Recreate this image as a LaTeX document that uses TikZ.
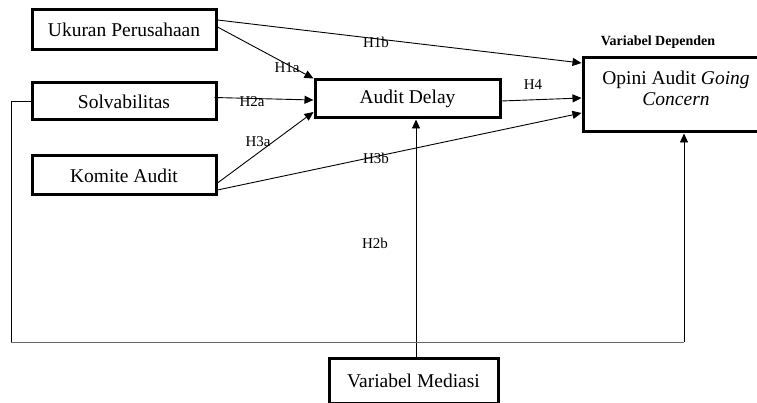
\documentclass[tikz,border=0pt]{standalone}
\usepackage{fontspec}
\setmainfont{Liberation Serif}
\usetikzlibrary{arrows.meta}
\begin{document}
\begin{tikzpicture}[x=1pt,y=-1pt,
  box/.style={draw,line width=3pt,rectangle,inner sep=0pt,font=\fontsize{19.5}{21}\selectfont,align=center},
  conn/.style={line width=0.9pt,-{Triangle[length=9pt,width=8pt]}},
  plain/.style={line width=0.9pt},
  hlab/.style={font=\fontsize{15}{17}\selectfont,inner sep=0pt}]
\useasboundingbox (0,0) rectangle (757,403);
\clip (0,0) rectangle (757,403);
\node[box,minimum width=184pt,minimum height=40pt] (uk) at (124,30) {Ukuran Perusahaan};
\node[box,minimum width=184pt,minimum height=37pt] (solv) at (124,101.5) {Solvabilitas};
\node[box,minimum width=184pt,minimum height=39pt] (kom) at (124,175.5) {Komite Audit};
\node[box,minimum width=185pt,minimum height=38pt] (ad) at (407.5,99) {Audit Delay};
\node[box,minimum width=186pt,minimum height=74pt] (op) at (676,95) {};
\node[font=\fontsize{19.5}{21}\selectfont,align=center,inner sep=0pt] (optext) at (676,88) {Opini Audit \textit{Going}\\\textit{Concern}};
\node[font=\bfseries\fontsize{14}{16}\selectfont,inner sep=0pt] (dep) at (658,42) {Variabel Dependen};
\node[box,minimum width=169pt,minimum height=45pt] (med) at (413.5,381) {Variabel Mediasi};

\draw[conn] ([yshift=3pt]uk.east) -- (ad.north west);
\draw[conn] ([yshift=10pt]uk.east) -- ([yshift=32pt]op.west);
\draw[conn] ([yshift=4pt,xshift=-3pt]solv.east) -- ([yshift=-1pt]ad.west);
\draw[conn] ([yshift=-7.5pt]kom.east) -- ([yshift=-13pt]ad.west);
\draw[conn] ([yshift=-14.5pt]kom.east) -- ([yshift=-18pt]op.west);
\draw[conn] ([yshift=-2pt]ad.east) -- ([yshift=-3pt]op.west);
\draw[conn] ([xshift=2.5pt]med.north) -- ([xshift=2.5pt]med.north |- ad.south);

\coordinate (l1) at (11,101.5);
\coordinate (l2) at (11,342);
\coordinate (l3) at (684,342);
\draw[plain] (solv.west) -- (l1) -- (l2);
\draw[plain,black!60] (l2) -- (l3);
\draw[conn] (l3) -- (l3 |- op.south);

\node[hlab] (h1a) at (287,68) {H1a};
\node[hlab] (h2a) at (252,102) {H2a};
\node[hlab] (h3a) at (258,142) {H3a};
\node[hlab] (h1b) at (376,42) {H1b};
\node[hlab] (h3b) at (376,158) {H3b};
\node[hlab] (h4) at (533,85) {H4};
\node[hlab] (h2b) at (375,243) {H2b};
\end{tikzpicture}
\end{document}
